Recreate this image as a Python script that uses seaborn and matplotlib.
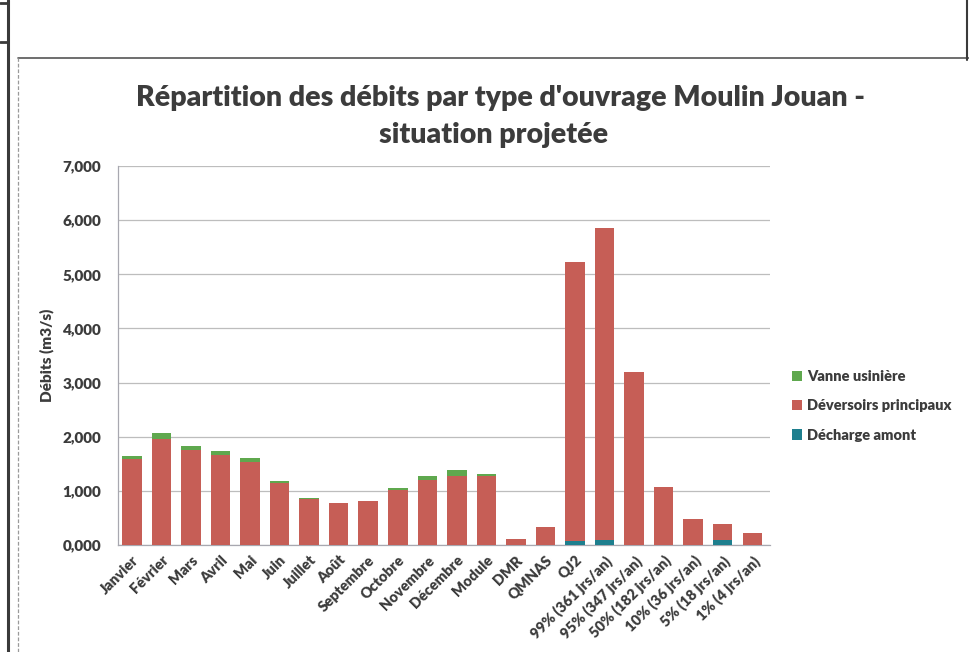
import matplotlib
matplotlib.use("Agg")
import matplotlib.pyplot as plt
from matplotlib.lines import Line2D
from matplotlib.patches import Patch
import seaborn as sns
import pandas as pd
import numpy as np

# Categories (months, reference flows, return-frequency flows)
categories = ["Janvier", "Février", "Mars", "Avril", "Mai", "Juin", "Juillet",
              "Août", "Septembre", "Octobre", "Novembre", "Décembre", "Module",
              "DMR", "QMNAS", "QJ2", "99% (361 jrs/an)", "95% (347 jrs/an)",
              "50% (182 jrs/an)", "10% (36 jrs/an)", "5% (18 jrs/an)",
              "1% (4 jrs/an)"]

# Flows per structure type (m3/s)
decharge_amont = [0, 0, 0, 0, 0, 0, 0, 0, 0, 0, 0, 0, 0,
                  0, 0, 0.08, 0.10, 0, 0, 0, 0.10, 0]
deversoirs_principaux = [1.58, 1.96, 1.75, 1.66, 1.54, 1.14, 0.85, 0.78, 0.81,
                         1.01, 1.20, 1.28, 1.27, 0.11, 0.33, 5.15, 5.76, 3.20,
                         1.07, 0.48, 0.29, 0.22]
vanne_usiniere = [0.07, 0.10, 0.08, 0.08, 0.07, 0.04, 0.02, 0, 0, 0.04, 0.07,
                  0.10, 0.04, 0, 0, 0, 0, 0, 0, 0, 0, 0]

y_ticks = [0, 1, 2, 3, 4, 5, 6, 7]

series_names = ["Vanne usinière", "Déversoirs principaux", "Décharge amont"]
colors = {"Vanne usinière": "#5FA84E",
          "Déversoirs principaux": "#C65E56",
          "Décharge amont": "#1E7F8E"}

df = pd.DataFrame({"cat": categories,
                   "Décharge amont": decharge_amont,
                   "Déversoirs principaux": deversoirs_principaux,
                   "Vanne usinière": vanne_usiniere})

sns.set_theme(style="white")
plt.rcParams["font.family"] = ["Lato", "DejaVu Sans"]
text_color = "#3C3C3C"
weight = "heavy"

fig = plt.figure(figsize=(9.69, 6.52), dpi=100)
ax = fig.add_axes([118 / 969, 1 - 545 / 652, (770 - 118) / 969, (545 - 166) / 652])

# Stacked bars: bottom layer first
base = np.zeros(len(categories))
for name in ["Décharge amont", "Déversoirs principaux", "Vanne usinière"]:
    sns.barplot(data=df, x="cat", y=name, order=categories, color=colors[name],
                bottom=base.copy(), width=0.66, saturation=1, ax=ax,
                linewidth=0, zorder=3)
    base = base + df[name].to_numpy()

ax.set_xlim(-0.47, len(categories) - 0.4)
ax.set_ylim(0, 7)
ax.set_yticks(y_ticks)
ax.set_yticklabels([f"{v:.3f}".replace(".", ",") for v in y_ticks],
                   fontsize=11, fontweight=weight, color=text_color)
ax.set_xticks(range(len(categories)))
ax.set_xticklabels(categories, rotation=45, ha="right", rotation_mode="anchor",
                   fontsize=10.5, fontweight=weight, color=text_color)
ax.tick_params(axis="x", length=0, pad=6)
ax.tick_params(axis="y", length=0, pad=12)
ax.set_xlabel("")
ax.set_ylabel("Débits (m3/s)", fontsize=11, fontweight=weight, color=text_color)
ax.yaxis.set_label_coords((54 - 118) / 652, 0.5)

ax.yaxis.grid(True, color="#BDBDBD", linewidth=0.9, zorder=0)
ax.xaxis.grid(False)
for side in ["top", "right"]:
    ax.spines[side].set_visible(False)
for side in ["left", "bottom"]:
    ax.spines[side].set_color("#A8A8B0")
    ax.spines[side].set_linewidth(0.9)

fig.text(500 / 969, 1 - 98 / 652,
         "Répartition des débits par type d'ouvrage Moulin Jouan -",
         ha="center", va="center", fontsize=20.5, fontweight=weight, color=text_color)
fig.text(494 / 969, 1 - 135 / 652, "situation projetée",
         ha="center", va="center", fontsize=20.5, fontweight=weight, color=text_color)

handles = [Patch(facecolor=colors[n], edgecolor="none") for n in series_names]
fig.legend(handles, series_names, loc="upper left",
           bbox_to_anchor=(786 / 969, 1 - 364 / 652), frameon=False,
           handlelength=0.7, handleheight=0.7, handletextpad=0.35,
           labelspacing=1.12, prop={"size": 10.5, "weight": weight},
           labelcolor=text_color, borderaxespad=0)

# Page frame around the chart
frame = "#3A3A3A"
fig.add_artist(Line2D([8 / 969, 8 / 969], [0, 1], color=frame, lw=2.2,
                      transform=fig.transFigure))
fig.add_artist(Line2D([0, 8 / 969], [1 - 3 / 652, 1 - 3 / 652], color=frame, lw=2,
                      transform=fig.transFigure))
fig.add_artist(Line2D([0, 8 / 969], [1 - 42 / 652, 1 - 42 / 652], color=frame, lw=2,
                      transform=fig.transFigure))
fig.add_artist(Line2D([18 / 969, 1], [1 - 58 / 652, 1 - 58 / 652], color="#555555",
                      lw=1.2, transform=fig.transFigure))
fig.add_artist(Line2D([18 / 969, 18 / 969], [0, 1 - 58 / 652], color="#9A9A9A",
                      lw=0.9, ls=(0, (3, 1.5)), transform=fig.transFigure))
fig.add_artist(Line2D([967 / 969, 967 / 969], [1 - 60 / 652, 1], color=frame, lw=1.5,
                      transform=fig.transFigure))

fig.savefig("out.png", dpi=100, facecolor="white")
